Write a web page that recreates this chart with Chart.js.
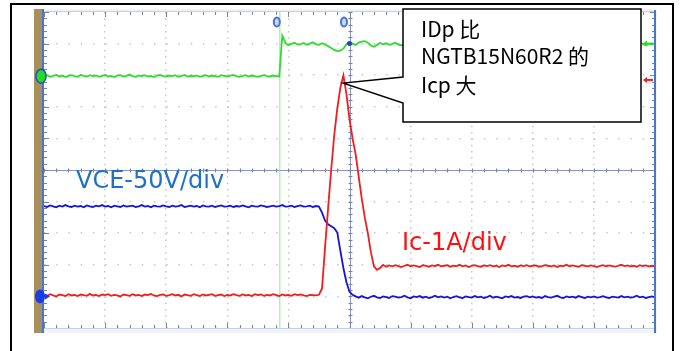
<!DOCTYPE html>
<html>
<head>
<meta charset="utf-8">
<script src="https://cdn.jsdelivr.net/npm/chart.js@4.4.1/dist/chart.umd.min.js"></script>
<style>
  html, body { margin: 0; padding: 0; background: #fff; }
  #wrap { position: relative; width: 680px; height: 351px; overflow: hidden; }
  #scope { position: absolute; left: 0; top: 0; }
  .lbl { position: absolute; white-space: nowrap; line-height: 1; }
  .ch { font-family: "DejaVu Sans", sans-serif; font-size: 24px; }
  .note { font-family: "Noto Sans CJK SC", sans-serif; font-size: 21px; color: #000; }
</style>
</head>
<body>
<div id="wrap">
  <canvas id="scope" width="680" height="351"></canvas>
  <div class="lbl ch" id="lbl-vce" style="left:76px; top:168px; color:#1e70c8;"></div>
  <div class="lbl ch" id="lbl-ic" style="left:402px; top:230px; color:#ff1010;"></div>
  <div class="lbl note" id="note-0" style="left:421px; top:18px;"></div>
  <div class="lbl note" id="note-1" style="left:421px; top:45px;"></div>
  <div class="lbl note" id="note-2" style="left:421px; top:74px;"></div>
</div>
<script>
// Scope capture: green ch, VCE (blue) and Ic (red) at turn-off.
// x in divisions (0..10), y in divisions (-5..5, 0 = centre line).

const SAMPLE_STEP = 0.05;   // one sample every 0.05 div

// ── Channel samples (div) ────────────────────────────────────────────────────
const CH_GREEN = [
  2.97, 3.00, 2.95, 2.98, 3.01, 2.96, 2.99, 2.94, 2.98, 3.00,
  2.97, 2.95, 3.01, 2.98, 2.96, 3.00, 2.97, 2.99, 2.95, 2.98,
  3.01, 2.96, 2.98, 2.94, 2.99, 3.00, 2.96, 2.98, 3.02, 2.97,
  2.95, 2.99, 2.97, 3.00, 2.96, 2.98, 2.94, 2.99, 3.01, 2.97,
  2.96, 2.99, 2.97, 3.00, 2.95, 2.98, 3.01, 2.96, 2.98, 2.97,
  2.99, 2.95, 2.98, 3.00, 2.96, 2.99, 2.97, 2.95, 3.00, 2.98,
  2.96, 2.99, 3.01, 2.97, 2.95, 2.98, 3.00, 2.96, 2.99, 2.97,
  2.95, 2.98, 3.00, 2.97, 2.96, 2.99, 2.97, 2.96,
  4.25, 4.02, 3.95, 3.99, 4.03, 3.97, 3.98, 4.02, 3.96, 4.00,
  4.04, 3.98, 3.96, 4.01, 3.97, 3.92, 3.86, 3.80, 3.76, 3.78,
  3.84, 3.98, 4.04, 4.00, 3.96, 4.03, 4.06, 4.08, 4.03, 3.94,
  3.90, 3.96, 4.02, 3.98,
  4.01, 3.96, 3.99, 4.03, 3.97, 3.95, 4.00, 4.04, 3.98, 3.96,
  4.01, 3.97, 3.94, 3.99, 4.02, 3.98, 3.95, 4.00, 4.03, 3.97,
  3.99, 3.95, 4.01, 3.98, 3.96, 4.02, 3.99, 3.94, 3.98, 4.01,
  3.97, 4.00, 3.96, 3.99, 4.03, 3.98, 3.95, 4.00, 3.97, 4.02,
  3.98, 3.95, 3.99, 4.01, 3.96, 3.98, 4.02, 3.97, 3.95, 4.00,
  3.98, 4.03, 3.97, 3.96, 4.01, 3.99, 3.95, 3.98, 4.02, 3.97,
  3.99, 4.01, 3.96, 3.98, 4.03, 3.97, 3.95, 4.00, 3.98, 4.02,
  3.96, 3.99, 4.01, 3.97, 3.95, 4.00, 3.98, 4.02, 3.97, 3.99,
  4.01, 3.96, 3.98, 4.02, 3.99, 3.95, 3.98, 4.00, 3.99
];

const CH_VCE = [
  -1.14, -1.17, -1.12, -1.15, -1.18, -1.13, -1.16, -1.11, -1.15, -1.17,
  -1.13, -1.16, -1.14, -1.18, -1.12, -1.15, -1.17, -1.13, -1.15, -1.11,
  -1.16, -1.14, -1.18, -1.13, -1.15, -1.17, -1.12, -1.16, -1.14, -1.13,
  -1.17, -1.15, -1.11, -1.16, -1.14, -1.18, -1.13, -1.15, -1.16, -1.12,
  -1.15, -1.17, -1.13, -1.16, -1.14, -1.11, -1.17, -1.15, -1.13, -1.16,
  -1.14, -1.18, -1.12, -1.15, -1.16, -1.13, -1.17, -1.14, -1.12, -1.16,
  -1.15, -1.13, -1.17, -1.14, -1.16, -1.12, -1.15, -1.18, -1.13, -1.15,
  -1.16, -1.12, -1.14, -1.17, -1.15, -1.13, -1.16, -1.14, -1.11, -1.16,
  -1.15, -1.13, -1.17, -1.14, -1.12, -1.16, -1.15, -1.13, -1.17, -1.14,
  -1.16, -1.35, -1.60, -1.72, -1.78, -1.84, -1.98, -2.55, -3.10, -3.55,
  -3.85, -3.95,
  -4.00, -4.04, -3.99, -4.03, -4.06, -4.01, -3.98, -4.03, -4.05, -4.00,
  -4.02, -4.05, -3.99, -4.01, -4.04, -4.02, -3.98, -4.03, -4.06, -4.00,
  -4.02, -3.99, -4.04, -4.01, -4.05, -4.02, -3.98, -4.03, -4.00, -4.04,
  -4.01, -4.06, -4.02, -3.99, -4.03, -4.05, -4.00, -4.02, -4.04, -3.99,
  -4.03, -4.01, -4.05, -4.02, -3.98, -4.04, -4.01, -4.03, -4.06, -4.00,
  -4.02, -3.99, -4.04, -4.02, -4.05, -4.01, -3.99, -4.03, -4.00, -4.04,
  -4.02, -4.05, -3.99, -4.02, -4.04, -4.01, -3.98, -4.03, -4.05, -4.00,
  -4.03, -4.01, -4.04, -3.99, -4.02, -4.05, -4.01, -4.03, -4.00, -4.04,
  -4.02, -3.99, -4.03, -4.05, -4.01, -4.02, -4.04, -3.99, -4.03, -4.01,
  -4.04, -4.02, -3.98, -4.03, -4.01, -4.05, -4.02, -4.00, -4.03
];

const CH_IC = [
  -3.95, -3.98, -3.93, -3.97, -4.00, -3.94, -3.96, -3.99, -3.93, -3.97,
  -3.95, -3.99, -3.94, -3.96, -3.98, -3.92, -3.97, -3.95, -3.99, -3.94,
  -3.96, -3.93, -3.98, -3.95, -3.97, -4.00, -3.94, -3.96, -3.98, -3.93,
  -3.97, -3.95, -3.99, -3.94, -3.96, -3.92, -3.97, -3.99, -3.95, -3.94,
  -3.98, -3.96, -3.93, -3.97, -3.95, -4.00, -3.94, -3.96, -3.98, -3.93,
  -3.96, -3.99, -3.94, -3.97, -3.95, -3.93, -3.98, -3.96, -3.94, -3.99,
  -3.95, -3.97, -3.93, -3.96, -3.98, -3.94, -3.97, -3.95, -3.99, -3.93,
  -3.96, -3.94, -3.98, -3.95, -3.97, -3.93, -3.96, -3.99, -3.94, -3.97,
  -3.95, -3.98, -3.93, -3.96, -3.94, -3.97, -3.99, -3.95, -3.96, -3.97,
  -3.95, -3.75, -2.45, -1.20, 0.00, 1.10, 1.95, 2.60, 3.00, 2.40,
  1.60, 1.00, 0.50, -0.20, -0.90, -1.50, -2.00, -2.60, -3.05, -3.16,
  -3.10, -3.00,
  -3.06, -3.02, -3.05, -3.01, -3.04, -3.07, -3.03, -3.00, -3.05, -3.02,
  -3.04, -3.07, -3.01, -3.03, -3.06, -3.02, -3.04, -3.00, -3.05, -3.03,
  -3.01, -3.06, -3.03, -3.04, -3.00, -3.05, -3.02, -3.07, -3.03, -3.01,
  -3.04, -3.06, -3.02, -3.04, -3.01, -3.05, -3.03, -3.07, -3.02, -3.04,
  -3.00, -3.05, -3.03, -3.06, -3.02, -3.04, -3.01, -3.05, -3.03, -3.02,
  -3.06, -3.04, -3.01, -3.03, -3.05, -3.02, -3.07, -3.03, -3.04, -3.00,
  -3.05, -3.02, -3.04, -3.06, -3.01, -3.03, -3.05, -3.02, -3.04, -3.07,
  -3.03, -3.01, -3.05, -3.02, -3.04, -3.06, -3.03, -3.00, -3.04, -3.02,
  -3.05, -3.03, -3.06, -3.01, -3.04, -3.02, -3.05, -3.03, -3.04
];

// ── Markers / cursors (div) ──────────────────────────────────────────────────
const CURSOR_T     = [3.86];          // green vertical cursor
const TRIG_MARK_T  = [3.81, 4.91];    // little "o" flags on the top edge
const GND_GREEN    = 2.97;
const GND_BLUE     = -4.0;
const RIGHT_LEVELS = [4.0, 2.85];     // green / red level arrows at right edge
const NOTE_TIP     = [4.9, 2.75];     // where the callout points (Ic peak)

// ── Text ─────────────────────────────────────────────────────────────────────
const LABEL_VCE  = 'VCE-50V/div';
const LABEL_IC   = 'Ic-1A/div';
const NOTE_LINES = ['IDp 比', 'NGTB15N60R2 的', 'Icp 大'];

const COL = {
  green:  '#2edc2e',
  blue:   '#1414dc',
  red:    '#f01e1e',
  cursor: '#86ea86',
  grid:   '#c6c6c6',
  axis:   '#8c95c2',
  edge:   '#4677c9',
  brown:  '#a8905c'
};

document.getElementById('lbl-vce').textContent = LABEL_VCE;
document.getElementById('lbl-ic').textContent = LABEL_IC;
NOTE_LINES.forEach((t, i) => { document.getElementById('note-' + i).textContent = t; });

const toPoints = arr => arr.map((v, i) => ({ x: i * SAMPLE_STEP, y: v }));

// ── Decorations: frame, crosshair, ticks, markers, callout ──────────────────
const scopeDecor = {
  id: 'scopeDecor',
  beforeDraw(chart) {
    const { ctx, chartArea: a } = chart;
    ctx.save();
    ctx.fillStyle = '#fff';
    ctx.fillRect(0, 0, chart.width, chart.height);
    ctx.strokeStyle = '#000';
    ctx.lineWidth = 2;
    ctx.strokeRect(11, 4, 662, 420);
    ctx.fillStyle = '#f1f3f7';
    ctx.fillRect(a.left - 2, a.top - 3, a.right - a.left + 4, a.bottom - a.top + 8);
    ctx.fillStyle = '#fff';
    ctx.fillRect(a.left, a.top, a.right - a.left, a.bottom - a.top);
    ctx.fillStyle = COL.brown;
    ctx.fillRect(a.left - 10, a.top - 3, 8, a.bottom - a.top + 8);
    ctx.restore();
  },
  beforeDatasetsDraw(chart) {
    const { ctx, chartArea: a, scales: { x, y } } = chart;
    const cx = Math.round(x.getPixelForValue(5)) + 0.5;
    const cy = Math.round(y.getPixelForValue(0)) + 0.5;
    ctx.save();
    ctx.strokeStyle = COL.axis;
    ctx.lineWidth = 1;
    ctx.beginPath();
    ctx.moveTo(a.left, cy); ctx.lineTo(a.right, cy);
    ctx.moveTo(cx, a.top); ctx.lineTo(cx, a.bottom);
    ctx.stroke();

    ctx.strokeStyle = '#7a82a8';
    ctx.beginPath();
    for (let k = 0; k <= 50; k++) {
      const px = Math.round(x.getPixelForValue(k / 5)) + 0.5;
      const len = k % 5 === 0 ? 5 : 3;
      ctx.moveTo(px, a.top); ctx.lineTo(px, a.top + len);
      ctx.moveTo(px, a.bottom); ctx.lineTo(px, a.bottom - len);
      ctx.moveTo(px, cy - 2); ctx.lineTo(px, cy + 2);
    }
    for (let k = 0; k <= 50; k++) {
      const py = Math.round(y.getPixelForValue(-5 + k / 5)) + 0.5;
      const len = k % 5 === 0 ? 5 : 3;
      ctx.moveTo(a.left, py); ctx.lineTo(a.left + len, py);
      ctx.moveTo(a.right, py); ctx.lineTo(a.right - len, py);
      ctx.moveTo(cx - 2, py); ctx.lineTo(cx + 2, py);
    }
    ctx.stroke();
    ctx.restore();
  },
  afterDatasetsDraw(chart) {
    const { ctx, chartArea: a, scales: { x, y } } = chart;
    ctx.save();

    // top / bottom faint edges, left / right blue edges
    ctx.fillStyle = '#c7cfe0';
    ctx.fillRect(a.left, a.top - 1, a.right - a.left, 1);
    ctx.fillRect(a.left, a.bottom, a.right - a.left, 1);
    ctx.fillStyle = COL.edge;
    ctx.fillRect(a.left - 2, a.top - 3, 2, a.bottom - a.top + 8);
    ctx.fillRect(a.right - 1, a.top - 2, 2, a.bottom - a.top + 7);

    // ground markers on the left edge
    const gy = y.getPixelForValue(GND_GREEN);
    ctx.beginPath();
    ctx.ellipse(a.left - 3, gy, 5, 7, 0, 0, Math.PI * 2);
    ctx.fillStyle = '#22dd22';
    ctx.fill();
    ctx.lineWidth = 1.5;
    ctx.strokeStyle = '#2050c0';
    ctx.stroke();

    const by = y.getPixelForValue(GND_BLUE);
    ctx.beginPath();
    ctx.ellipse(a.left - 4, by, 5, 7, 0, 0, Math.PI * 2);
    ctx.fillStyle = '#1a3ee6';
    ctx.fill();
    ctx.beginPath();
    ctx.moveTo(a.left + 1, by - 3);
    ctx.lineTo(a.left + 6, by);
    ctx.lineTo(a.left + 1, by + 3);
    ctx.closePath();
    ctx.fill();

    // level arrows on the right edge
    [COL.green, COL.red].forEach((c, i) => {
      const ry = y.getPixelForValue(RIGHT_LEVELS[i]);
      ctx.strokeStyle = c;
      ctx.fillStyle = c;
      ctx.lineWidth = 2;
      ctx.beginPath();
      ctx.moveTo(a.right - 9, ry); ctx.lineTo(a.right - 2, ry);
      ctx.stroke();
      ctx.beginPath();
      ctx.moveTo(a.right - 12, ry);
      ctx.lineTo(a.right - 8, ry - 3);
      ctx.lineTo(a.right - 8, ry + 3);
      ctx.closePath();
      ctx.fill();
    });

    // trigger flags on the top edge
    TRIG_MARK_T.forEach(t => {
      const tx = x.getPixelForValue(t);
      ctx.beginPath();
      ctx.ellipse(tx, a.top + 10, 3, 4.5, 0, 0, Math.PI * 2);
      ctx.fillStyle = '#cbd8f4';
      ctx.fill();
      ctx.lineWidth = 2;
      ctx.strokeStyle = '#4a72d2';
      ctx.stroke();
    });

    // blue dot where the centre line meets the green trace
    ctx.beginPath();
    ctx.arc(x.getPixelForValue(5), y.getPixelForValue(RIGHT_LEVELS[0]), 2.5, 0, Math.PI * 2);
    ctx.fillStyle = '#2040d0';
    ctx.fill();

    // callout box
    const tipX = x.getPixelForValue(NOTE_TIP[0]);
    const tipY = y.getPixelForValue(NOTE_TIP[1]);
    ctx.beginPath();
    ctx.moveTo(403, 9);
    ctx.lineTo(641, 9);
    ctx.lineTo(641, 122);
    ctx.lineTo(403, 122);
    ctx.lineTo(403, 103);
    ctx.lineTo(tipX, tipY);
    ctx.lineTo(403, 77);
    ctx.closePath();
    ctx.fillStyle = '#fff';
    ctx.fill();
    ctx.lineWidth = 1.5;
    ctx.strokeStyle = '#000';
    ctx.stroke();

    ctx.restore();
  }
};

const trace = (label, data, color, width) => ({
  label,
  data,
  borderColor: color,
  backgroundColor: color,
  borderWidth: width,
  pointRadius: 0,
  tension: 0,
  fill: false
});

new Chart(document.getElementById('scope').getContext('2d'), {
  type: 'line',
  data: {
    datasets: [
      trace('Ic', toPoints(CH_IC), COL.red, 1.8),
      trace('VCE', toPoints(CH_VCE), COL.blue, 1.8),
      trace('CH', toPoints(CH_GREEN), COL.green, 1.8),
      trace('cursor', [{ x: CURSOR_T[0], y: -5 }, { x: CURSOR_T[0], y: 5 }], COL.cursor, 1)
    ]
  },
  options: {
    responsive: false,
    devicePixelRatio: 1,
    animation: false,
    parsing: false,
    layout: { padding: { left: 44, right: 25, top: 12, bottom: 23 } },
    plugins: { legend: { display: false }, tooltip: { enabled: false } },
    scales: {
      x: {
        type: 'linear',
        min: 0,
        max: 10,
        ticks: { display: false, stepSize: 1 },
        grid: { color: COL.grid, lineWidth: 1.5, drawTicks: false },
        border: { display: false, dash: [1.5, 4.82] }
      },
      y: {
        type: 'linear',
        min: -5,
        max: 5,
        ticks: { display: false, stepSize: 1 },
        grid: { color: COL.grid, lineWidth: 1.5, drawTicks: false },
        border: { display: false, dash: [1.5, 10.72] }
      }
    }
  },
  plugins: [scopeDecor]
});
</script>
</body>
</html>
